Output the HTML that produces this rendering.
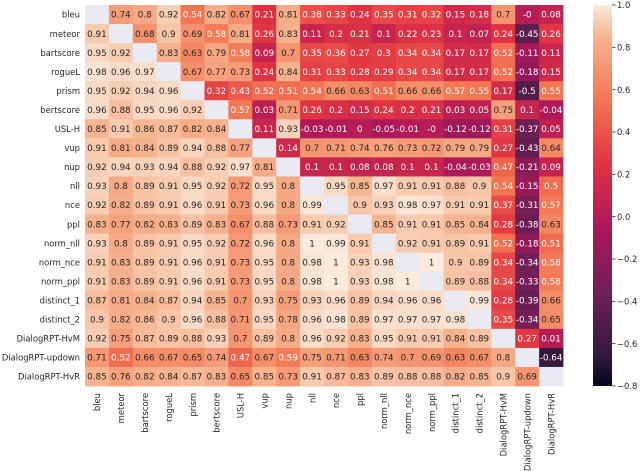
<!DOCTYPE html>
<html><head><meta charset="utf-8"><style>
body{margin:0;background:#fff;}
svg{display:block;font-family:"DejaVu Sans","Liberation Sans",sans-serif;}
</style></head><body>
<svg id="chart" width="640" height="471" viewBox="0 0 640 471" xmlns="http://www.w3.org/2000/svg">
<defs>
<linearGradient id="rocket" x1="0" y1="1" x2="0" y2="0">
<stop offset="0" stop-color="#03051a"/><stop offset="0.0833" stop-color="#35193e"/><stop offset="0.25" stop-color="#701f57"/><stop offset="0.4167" stop-color="#ad1759"/><stop offset="0.5833" stop-color="#e13342"/><stop offset="0.75" stop-color="#f37651"/><stop offset="0.9167" stop-color="#f6b48f"/><stop offset="1" stop-color="#faebdd"/>
</linearGradient>
</defs>
<g id="cells"></g>
<g id="ylabels"></g>
<g id="xlabels"></g>
<g>
<rect x="593" y="5" width="19" height="381" fill="url(#rocket)"/>
<g id="cbticks"></g>
</g>
</svg>
<script>
const labels = ["bleu","meteor","bartscore","rogueL","prism","bertscore","USL-H","vup","nup","nll","nce","ppl","norm_nll","norm_nce","norm_ppl","distinct_1","distinct_2","DialogRPT-HvM","DialogRPT-updown","DialogRPT-HvR"];
const rowBleu=[null,0.74,0.8,0.92,0.54,0.82,0.67,0.21,0.81,0.38,0.33,0.24,0.35,0.31,0.32,0.15,0.18,0.7,-0,0.08];
const rowMeteor=[0.91,null,0.68,0.9,0.69,0.58,0.81,0.26,0.83,0.11,0.2,0.21,0.1,0.22,0.23,0.1,0.07,0.24,-0.45,0.26];
const rowBartscore=[0.95,0.92,null,0.83,0.63,0.79,0.58,0.09,0.7,0.35,0.36,0.27,0.3,0.34,0.34,0.17,0.17,0.52,-0.11,0.11];
const rowRogueL=[0.98,0.96,0.97,null,0.67,0.77,0.73,0.24,0.84,0.31,0.33,0.28,0.29,0.34,0.34,0.17,0.17,0.52,-0.18,0.15];
const rowPrism=[0.95,0.92,0.94,0.96,null,0.32,0.43,0.52,0.51,0.54,0.66,0.63,0.51,0.66,0.66,0.57,0.55,0.17,-0.5,0.55];
const rowBertscore=[0.96,0.88,0.95,0.96,0.92,null,0.57,0.03,0.71,0.26,0.2,0.15,0.24,0.2,0.21,0.03,0.05,0.75,0.1,-0.04];
const rowUSLH=[0.85,0.91,0.86,0.87,0.82,0.84,null,0.11,0.93,-0.03,-0.01,0,-0.05,-0.01,-0,-0.12,-0.12,0.31,-0.37,0.05];
const rowVup=[0.91,0.81,0.84,0.89,0.94,0.88,0.77,null,0.14,0.7,0.71,0.74,0.76,0.73,0.72,0.79,0.79,0.27,-0.43,0.64];
const rowNup=[0.92,0.94,0.93,0.94,0.88,0.92,0.97,0.81,null,0.1,0.1,0.08,0.08,0.1,0.1,-0.04,-0.03,0.47,-0.21,0.09];
const rowNll=[0.93,0.8,0.89,0.91,0.95,0.92,0.72,0.95,0.8,null,0.95,0.85,0.97,0.91,0.91,0.88,0.9,0.54,-0.15,0.5];
const rowNce=[0.92,0.82,0.89,0.91,0.96,0.91,0.73,0.96,0.8,0.99,null,0.9,0.93,0.98,0.97,0.91,0.91,0.37,-0.31,0.57];
const rowPpl=[0.83,0.77,0.82,0.83,0.89,0.83,0.67,0.88,0.73,0.91,0.92,null,0.85,0.91,0.91,0.85,0.84,0.28,-0.38,0.63];
const rowNormNll=[0.93,0.8,0.89,0.91,0.95,0.92,0.72,0.96,0.8,1,0.99,0.91,null,0.92,0.91,0.89,0.91,0.52,-0.18,0.51];
const rowNormNce=[0.91,0.83,0.89,0.91,0.96,0.91,0.73,0.95,0.8,0.98,1,0.93,0.98,null,1,0.9,0.89,0.34,-0.34,0.58];
const rowNormPpl=[0.91,0.83,0.89,0.91,0.96,0.91,0.73,0.95,0.8,0.98,1,0.93,0.98,1,null,0.89,0.88,0.34,-0.33,0.58];
const rowDistinct1=[0.87,0.81,0.84,0.87,0.94,0.85,0.7,0.93,0.75,0.93,0.96,0.89,0.94,0.96,0.96,null,0.99,0.28,-0.39,0.66];
const rowDistinct2=[0.9,0.82,0.86,0.9,0.96,0.88,0.71,0.95,0.78,0.96,0.98,0.89,0.97,0.97,0.97,0.98,null,0.35,-0.34,0.65];
const rowHvM=[0.92,0.75,0.87,0.89,0.88,0.93,0.7,0.89,0.8,0.96,0.92,0.83,0.95,0.91,0.91,0.84,0.89,null,0.27,0.01];
const rowUpdown=[0.71,0.52,0.66,0.67,0.65,0.74,0.47,0.67,0.59,0.75,0.71,0.63,0.74,0.7,0.69,0.63,0.67,0.8,null,-0.64];
const rowHvR=[0.85,0.76,0.82,0.84,0.87,0.83,0.65,0.85,0.73,0.91,0.87,0.83,0.89,0.88,0.88,0.82,0.85,0.9,0.69,null];
const matrix=[rowBleu,rowMeteor,rowBartscore,rowRogueL,rowPrism,rowBertscore,rowUSLH,rowVup,rowNup,rowNll,rowNce,rowPpl,rowNormNll,rowNormNce,rowNormPpl,rowDistinct1,rowDistinct2,rowHvM,rowUpdown,rowHvR];
const cbTicks=[1.0,0.8,0.6,0.4,0.2,0.0,-0.2,-0.4,-0.6,-0.8];
const vmin=-0.8, vmax=1.0;

const NS="http://www.w3.org/2000/svg";
const X0=85,X1=563,Y0=5,Y1=386;
const cw=(X1-X0)/labels.length, ch=(Y1-Y0)/labels.length;
const xPos=i=>X0+i*cw, yPos=i=>Y0+i*ch;
const cbY=v=>Y1-(v-vmin)/(vmax-vmin)*(Y1-Y0);
const stops=[[0,[3,5,26]],[0.0833,[53,25,62]],[0.25,[112,31,87]],[0.4167,[173,23,89]],[0.5833,[225,51,66]],[0.75,[243,118,81]],[0.9167,[246,180,143]],[1,[250,235,221]]];
function color(v){let t=Math.max(0,Math.min(1,(v-vmin)/(vmax-vmin)));for(let k=1;k<stops.length;k++){if(t<=stops[k][0]){const a=stops[k-1],b=stops[k],f=(t-a[0])/(b[0]-a[0]);return a[1].map((c,i)=>Math.round(c+(b[1][i]-c)*f));}}return stops[stops.length-1][1];}
function fmt(v){if(Object.is(v,-0))return "-0";return String(v);}
const cells=document.getElementById('cells');
matrix.forEach((row,r)=>row.forEach((v,c)=>{
  const rect=document.createElementNS(NS,'rect');
  
  
  rect.setAttribute('x',xPos(c));rect.setAttribute('y',yPos(r));
  rect.setAttribute('width',cw+0.4);rect.setAttribute('height',ch+0.4);
  if(v===null){rect.setAttribute('fill','#eaeaf2');cells.appendChild(rect);return;}
  const col=color(v);
  rect.setAttribute('fill','rgb('+col.join(',')+')');
  cells.appendChild(rect);
  const t=document.createElementNS(NS,'text');
  
  
  t.setAttribute('x',xPos(c)+cw/2);t.setAttribute('y',yPos(r)+ch/2+3.2);
  t.setAttribute('text-anchor','middle');t.setAttribute('font-size','8.8');
  t.setAttribute('fill',v<0.6?'#ffffff':'#262626');
  t.textContent=fmt(v);
  cells.appendChild(t);
}));
const yl=document.getElementById('ylabels'), xl=document.getElementById('xlabels');
labels.forEach((l,i)=>{
  const t=document.createElementNS(NS,'text');
  
  
  t.setAttribute('x',X0-5);t.setAttribute('y',yPos(i)+ch/2+3.2);
  t.setAttribute('text-anchor','end');t.setAttribute('font-size','8.4');t.setAttribute('fill','#262626');
  t.textContent=l;yl.appendChild(t);
  const u=document.createElementNS(NS,'text');
  
  
  const cx=xPos(i)+cw/2+3.2;
  u.setAttribute('transform','translate('+cx+','+(Y1+7)+') rotate(-90)');
  u.setAttribute('text-anchor','end');u.setAttribute('font-size','8.4');u.setAttribute('fill','#262626');
  u.textContent=l;xl.appendChild(u);
});
const cbt=document.getElementById('cbticks');
cbTicks.forEach(v=>{
  const y=cbY(v);
  const ln=document.createElementNS(NS,'line');
  
  
  ln.setAttribute('x1',612);ln.setAttribute('x2',615.5);ln.setAttribute('y1',y);ln.setAttribute('y2',y);
  ln.setAttribute('stroke','#262626');ln.setAttribute('stroke-width','0.8');cbt.appendChild(ln);
  const t=document.createElementNS(NS,'text');
  
  
  t.setAttribute('x',617);t.setAttribute('y',y+3.2);t.setAttribute('font-size','8.4');t.setAttribute('fill','#262626');
  t.textContent=(v<0?'\u2212':'')+Math.abs(v).toFixed(1);cbt.appendChild(t);
});
</script>
</body></html>
